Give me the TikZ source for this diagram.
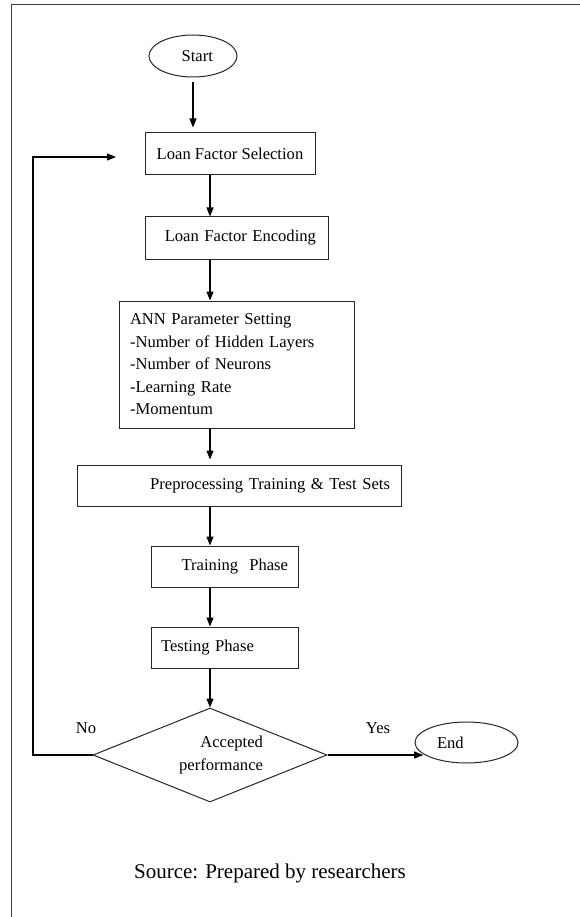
\documentclass[tikz,border=0pt]{standalone}
\usepackage{fontspec}
\setmainfont{Liberation Serif}
\usetikzlibrary{shapes.geometric,arrows.meta}
\newcommand{\flowfont}{\fontsize{16.6}{22.5}\selectfont}

\begin{document}
\begin{tikzpicture}[x=1pt,y=-1pt,
        every node/.style={font=\flowfont},
        stepbox/.style={draw=black!85,line width=1pt,rectangle,inner sep=0pt,minimum height=41pt},
        terminal/.style={draw=black!85,line width=1pt,ellipse,inner sep=0pt,minimum width=88pt,minimum height=42pt},
        decision/.style={draw=black!85,line width=1pt,diamond,aspect=2.5,inner sep=0pt},
        flow/.style={line width=1.1pt,-{Triangle[length=9pt,width=7pt]}}]
        \useasboundingbox (0,0) rectangle (580,917);
        \draw[black!75,line width=1pt] (11,917) -- (11,5) -- (580,5); % frame

        % steps, top to bottom
        \node[terminal,text width=40pt,align=right] (start) at (193,56) {Start};
        \node[stepbox,minimum width=170pt,minimum height=42pt] (sel) at (230,154) {Loan Factor Selection};
        \node[stepbox,minimum width=183pt,minimum height=42pt,text width=159pt,align=right] (enc) at (236.5,238) {Loan Factor Encoding};
        \node[stepbox,minimum width=235pt,minimum height=127pt,text width=213pt,align=left] (ann) at (236.5,364.5)
            {ANN Parameter Setting\\-Number of Hidden Layers\\-Number of Neurons\\-Learning Rate\\-Momentum};
        \node[stepbox,minimum width=324pt,text width=302pt,align=right] (pre) at (239,485.5) {Preprocessing Training \& Test Sets};
        \node[stepbox,minimum width=147pt,text width=127pt,align=right] (train) at (224.5,566.5) {Training\ \ Phase};
        \node[stepbox,minimum width=147pt,text width=127pt,align=left] (test) at (224.5,647.5) {Testing Phase};
        \node[decision,minimum width=234pt,minimum height=94pt,text width=106pt,align=right] (dec) at (210,755) {Accepted\\performance};
        \node[terminal,minimum width=103pt,minimum height=41pt,text width=59pt,align=left] (end) at (466.5,742.5) {End};

        \node (no) at (86,728) {No};
        \node (yes) at (378,728) {Yes};
        \node[font=\fontsize{21}{25}\selectfont] (source) at (270,873) {Source: Prepared by researchers};

        \coordinate (col) at (210,0); % the column the arrows run down
        \coordinate (loop) at (33,157);
        \coordinate (loopend) at (116,157);

        \draw[flow,shorten <=5pt,shorten >=5pt] (start.south) -- (start.south |- sel.north);
        \draw[flow] (sel.south -| col) -- (enc.north -| col);
        \draw[flow] (enc.south -| col) -- (ann.north -| col);
        \draw[flow,shorten >=5pt] (ann.south -| col) -- (pre.north -| col);
        \draw[flow] (pre.south -| col) -- (train.north -| col);
        \draw[flow] (train.south -| col) -- (test.north -| col);
        \draw[flow] (test.south -| col) -- (dec.north);
        \draw[flow] (dec.east) -- (dec.east -| end.195);
        \draw[flow] (dec.west) -| (loop) -- (loopend); % back to selection
    \end{tikzpicture}
\end{document}
